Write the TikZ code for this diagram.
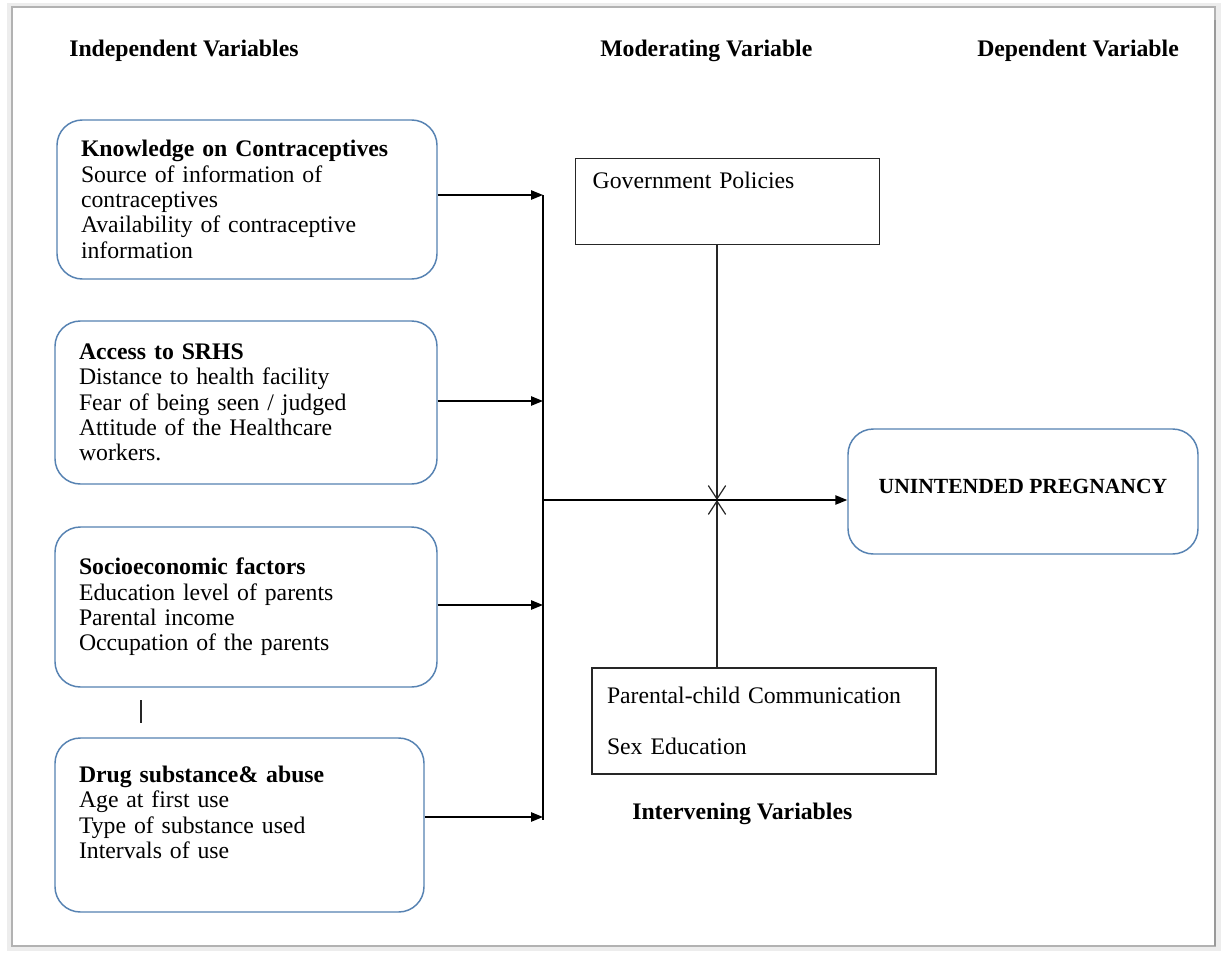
\documentclass[tikz,border=0pt]{standalone}
\usepackage{fontspec}
\setmainfont{Liberation Serif}
\usetikzlibrary{arrows.meta,positioning}
\definecolor{boxblue}{RGB}{86,130,178}

\begin{document}
\begin{tikzpicture}[x=.75pt,y=-.75pt,
  font=\fontsize{17.8}{19}\selectfont,
  ivbox/.style={draw=boxblue,line width=1.1pt,rounded corners=19pt,
    inner xsep=18pt,align=left},
  plainbox/.style={draw=black!85,line width=1.1pt,align=left},
  heading/.style={font=\fontsize{17.8}{19}\selectfont\bfseries,anchor=west,inner xsep=0pt},
  feed/.style={line width=1.2pt,-{Triangle[length=9pt,width=7pt]}},
  pull/.style={line width=.9pt,black!85,-{Straight Barb[length=10pt,width=13pt,line width=.9pt]}}]
\useasboundingbox (0,0) rectangle (1225,953);
% page frame with soft shadow
\fill[black!7] (7,3) rectangle (1221,951);
\fill[white] (12,7) rectangle (1215,946);
\draw[black!30,line width=1pt] (12,7) rectangle (1215,946);
\draw[black!40,line width=1.5pt] (1215,20) -- (1215,946);

% headings
\node[heading] (hind) at (69,51) {Independent Variables};
\node[heading] (hmod) at (600,51) {Moderating Variable};
\node[heading] (hdep) at (977,51) {Dependent Variable};
\node[heading] (hint) at (632,814) {Intervening Variables};

% independent variables
\node[ivbox,text width=249pt,minimum height=119.25pt] (know) at (247,199.5)
  {\textbf{Knowledge on Contraceptives}\\Source of information of\\contraceptives\\
   Availability of contraceptive\\information};
\node[ivbox,text width=250.5pt,minimum height=122.25pt] (srhs) at (246,402.5)
  {\textbf{Access to SRHS}\\Distance to health facility\\Fear of being seen / judged\\
   Attitude of the Healthcare\\workers.};
\node[ivbox,text width=250.5pt,minimum height=120pt] (socio) at (246,607)
  {\textbf{Socioeconomic factors}\\Education level of parents\\Parental income\\
   Occupation of the parents};
\node[ivbox,text width=240.75pt,minimum height=130.5pt] (drug) at (239.5,825)
  {\textbf{Drug substance\& abuse}\\Age at first use\\Type of substance used\\
   Intervals of use\\\mbox{}};
\draw[black!85,line width=.8pt] (141,700) -- (141,723);

% moderating / intervening
\node[plainbox,anchor=north west,inner ysep=0pt,inner xsep=12.75pt,
  text width=202.5pt,text height=22.5pt,text depth=42pt] (gov) at (575,158)
  {Government Policies};
\node[plainbox,inner xsep=11.25pt,text width=235.5pt,minimum height=79.5pt] (pc) at (764,721)
  {Parental-child Communication\\[18.75pt]Sex Education};

% dependent variable
\node[ivbox,align=center,inner xsep=6pt,minimum width=262.5pt,minimum height=93.75pt,
  text depth=7.5pt,font=\fontsize{16.2}{19}\selectfont\bfseries] (up) at (1023,491.5)
  {UNINTENDED PREGNANCY};

% connectors
\coordinate (tapK) at (543,195);
\coordinate (tapA) at (543,401);
\coordinate (tapS) at (543,605);
\coordinate (tapD) at (543,817);
\coordinate (busend) at (543,820);
\coordinate (hub) at (543,500);
\coordinate (cross) at (717,500);
\draw[line width=1.2pt] (tapK) -- (busend);
\draw[feed] (know.east |- tapK) -- (tapK);
\draw[feed] (srhs.east |- tapA) -- (tapA);
\draw[feed] (socio.east |- tapS) -- (tapS);
\draw[feed] (drug.east |- tapD) -- (tapD);
\draw[feed] (hub) -- (up.west |- hub);
\draw[pull] (gov.south -| cross) -- (cross);
\draw[pull] (pc.north -| cross) -- (cross);
\end{tikzpicture}
\end{document}
